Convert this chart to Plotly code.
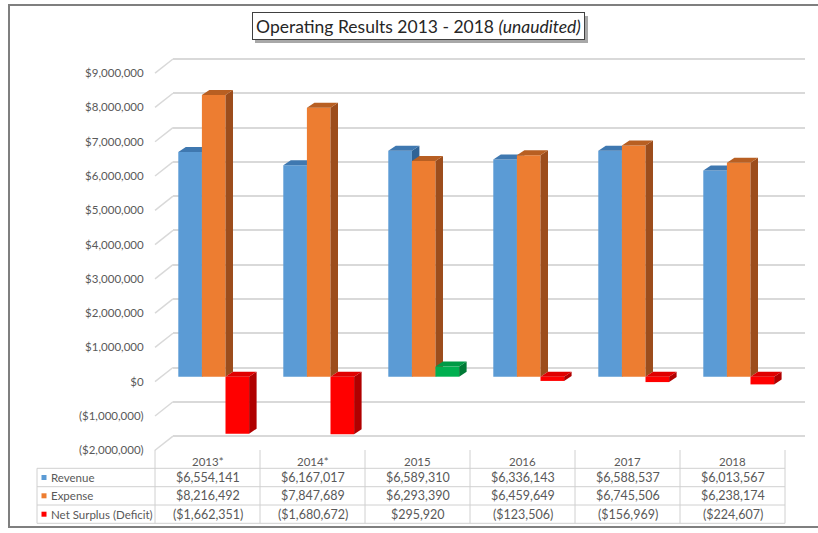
import plotly.graph_objects as go

# ---------------- data ----------------
categories = ["2013*", "2014*", "2015", "2016", "2017", "2018"]
revenue = [6554141, 6167017, 6589310, 6336143, 6588537, 6013567]
expense = [8216492, 7847689, 6293390, 6459649, 6745506, 6238174]
net_surplus = [-1662351, -1680672, 295920, -123506, -156969, -224607]
series_names = ["Revenue", "Expense", "Net Surplus (Deficit)"]
y_ticks = [-2e6, -1e6, 0, 1e6, 2e6, 3e6, 4e6, 5e6, 6e6, 7e6, 8e6, 9e6]
title_text = "Operating Results 2013 - 2018 <i>(unaudited)</i>"

# ---------------- styles / geometry ----------------
W, H = 818, 533
FONT = "Lato"
TXT = "#595959"
GRID = "#d9d9d9"
BLUE, BLUE_TOP, BLUE_SIDE = "#5B9BD5", "#3F78B0", "#2F6396"
ORANGE, ORANGE_TOP, ORANGE_SIDE = "#ED7D31", "#B85F22", "#9C4D1C"
RED, RED_TOP, RED_SIDE = "#FF0000", "#E00000", "#B00000"
GREEN, GREEN_TOP, GREEN_SIDE = "#00B050", "#009A46", "#007A36"

X_DOM_PX = (173, 805)
CAT0_PX, CAT_STEP = 207.5, 105.0
Y_TOP_PX, Y_BOT_PX = 50, 455
PXM = 34.28  # pixels per 1,000,000
ZERO_LABEL_PX, ZERO_GRID_PX, ZERO_BAR_PX = 381.7, 367.5, 376.7
WALL_X0_PX = 155
BW = 23.6 / CAT_STEP
GROUP_START = (178.3 - CAT0_PX) / CAT_STEP
DX = 7.5 / CAT_STEP
DY = 5.0 / PXM * 1e6

def px(x):
    return x / W

def py(y):
    return 1 - y / H

def yrange(zero_px):
    return [(zero_px - Y_BOT_PX) / PXM * 1e6, (zero_px - Y_TOP_PX) / PXM * 1e6]

def money(v):
    s = "${:,.0f}".format(abs(v))
    return "(" + s + ")" if v < 0 else s

x_range = [(X_DOM_PX[0] - CAT0_PX) / CAT_STEP, (X_DOM_PX[1] - CAT0_PX) / CAT_STEP]
idx = list(range(len(categories)))

fig = go.Figure()

# empty traces to create label / grid subplots
fig.add_trace(go.Scatter(x=[], y=[], yaxis="y", showlegend=False, hoverinfo="skip"))
fig.add_trace(go.Scatter(x=[], y=[], yaxis="y2", showlegend=False, hoverinfo="skip"))

def poly_trace(polys, color, yaxis):
    xs, ys = [], []
    for p in polys:
        for (a, b) in p:
            xs.append(a)
            ys.append(b)
        xs.append(p[0][0]); ys.append(p[0][1])
        xs.append(None); ys.append(None)
    return go.Scatter(x=xs, y=ys, mode="lines", fill="toself", fillcolor=color,
                      line=dict(width=0, color=color), yaxis=yaxis,
                      showlegend=False, hoverinfo="skip")

series_def = [
    (revenue, "y3", lambda v: (BLUE, BLUE_TOP, BLUE_SIDE)),
    (expense, "y4", lambda v: (ORANGE, ORANGE_TOP, ORANGE_SIDE)),
    (net_surplus, "y5", lambda v: (GREEN, GREEN_TOP, GREEN_SIDE) if v >= 0 else (RED, RED_TOP, RED_SIDE)),
]

for k, (vals, yax, cfn) in enumerate(series_def):
    off = GROUP_START + k * BW
    fronts = [cfn(v)[0] for v in vals]
    fig.add_trace(go.Bar(x=idx, y=vals, width=BW, offset=off, marker=dict(color=fronts, line=dict(width=0)),
                         yaxis=yax, name=series_names[k], showlegend=False, hoverinfo="skip"))
    faces = {}
    for i, v in zip(idx, vals):
        _, ctop, cside = cfn(v)
        xl = i + off
        xr = xl + BW
        h = max(v, 0)
        side = [(xr, 0), (xr + DX, DY), (xr + DX, v + DY), (xr, v)]
        top = [(xl, h), (xl + DX, h + DY), (xr + DX, h + DY), (xr, h)]
        faces.setdefault(cside, []).append(side)
        faces.setdefault(ctop, []).append(top)
    for col, polys in faces.items():
        fig.add_trace(poly_trace(polys, col, yax))

ydom = [py(Y_BOT_PX), py(Y_TOP_PX)]
hidden = dict(showgrid=False, zeroline=False, showline=False, showticklabels=False, ticks="")

fig.update_layout(
    width=W, height=H, autosize=False,
    margin=dict(l=0, r=0, t=0, b=0),
    paper_bgcolor="white", plot_bgcolor="rgba(0,0,0,0)",
    barmode="overlay",
    xaxis=dict(domain=[px(X_DOM_PX[0]), px(X_DOM_PX[1])], range=x_range, anchor="y", **hidden),
    yaxis=dict(domain=ydom, range=yrange(ZERO_LABEL_PX), anchor="free", position=px(WALL_X0_PX),
               tickvals=y_ticks, ticktext=[money(t) for t in y_ticks],
               showgrid=False, zeroline=False, showline=False,
               ticks="outside", ticklen=9, tickcolor="rgba(0,0,0,0)",
               tickfont=dict(family=FONT, size=11.5, color=TXT)),
    yaxis2=dict(overlaying="y", anchor="x", range=yrange(ZERO_GRID_PX), tickvals=y_ticks,
                showgrid=True, gridcolor=GRID, gridwidth=1.5, zeroline=False,
                showline=False, showticklabels=False, ticks=""),
    yaxis3=dict(overlaying="y", anchor="x", range=yrange(ZERO_BAR_PX), **hidden),
    yaxis4=dict(overlaying="y", anchor="x", range=yrange(ZERO_BAR_PX), **hidden),
    yaxis5=dict(overlaying="y", anchor="x", range=yrange(ZERO_BAR_PX), **hidden),
)

shapes = []
# side wall slanted grid lines
for t in y_ticks:
    shapes.append(dict(type="line", xref="paper", yref="y", ysizemode="pixel", yanchor=t,
                       x0=px(WALL_X0_PX), x1=px(X_DOM_PX[0]), y0=0, y1=ZERO_LABEL_PX - ZERO_GRID_PX,
                       line=dict(color=GRID, width=1.5), layer="below"))

# data table grid
TABLE_L_PX = 37
HDR_TOP_PX = 450
ROW_LINES_PX = [468.3, 486.7, 505.0, 523.3]
TBL = "#d0d0d0"
for yl in ROW_LINES_PX:
    shapes.append(dict(type="line", xref="paper", yref="paper", x0=px(TABLE_L_PX), x1=px(CAT0_PX + 5.5 * CAT_STEP),
                       y0=py(yl), y1=py(yl), line=dict(color=TBL, width=1)))
for b in range(len(categories) + 1):
    xb = CAT0_PX + (b - 0.5) * CAT_STEP
    shapes.append(dict(type="line", xref="paper", yref="paper", x0=px(xb), x1=px(xb),
                       y0=py(HDR_TOP_PX), y1=py(ROW_LINES_PX[-1]), line=dict(color=TBL, width=1)))
shapes.append(dict(type="line", xref="paper", yref="paper", x0=px(TABLE_L_PX), x1=px(TABLE_L_PX),
                   y0=py(ROW_LINES_PX[0]), y1=py(ROW_LINES_PX[-1]), line=dict(color=TBL, width=1)))

# title shadow
shapes.append(dict(type="rect", xref="paper", yref="paper", x0=px(255), x1=px(588), y0=py(43), y1=py(16),
                   fillcolor="#a8a8a8", line=dict(width=0)))
# outer chart border
shapes.append(dict(type="rect", xref="paper", yref="paper", x0=px(9), x1=px(830), y0=py(527), y1=py(5),
                   line=dict(color="#7f7f7f", width=2), fillcolor="rgba(0,0,0,0)"))

annotations = []
annotations.append(dict(text=title_text, xref="paper", yref="paper", x=px(418.5), y=py(26.5),
                        xanchor="center", yanchor="middle", showarrow=False,
                        font=dict(family=FONT, size=17.5, color="#262626"),
                        bgcolor="white", bordercolor="#404040", borderwidth=1, borderpad=3,
                        width=325, height=20))

HDR_Y = 461.0
ROW_Y = [477.5, 495.8, 514.2]
TFONT = dict(family=FONT, size=11.5, color=TXT)
VFONT = dict(family=FONT, size=12.5, color=TXT)
for i, c in zip(idx, categories):
    annotations.append(dict(text=c, xref="x", yref="paper", x=i, y=py(HDR_Y), showarrow=False,
                            xanchor="center", yanchor="middle", font=TFONT))
row_vals = [revenue, expense, net_surplus]
key_colors = [BLUE, ORANGE, RED]
for r, (vals, name, kc) in enumerate(zip(row_vals, series_names, key_colors)):
    for i, v in zip(idx, vals):
        annotations.append(dict(text=money(v), xref="x", yref="paper", x=i, y=py(ROW_Y[r]), showarrow=False,
                                xanchor="center", yanchor="middle", font=VFONT))
    annotations.append(dict(text=name, xref="paper", yref="paper", x=px(49), y=py(ROW_Y[r]), showarrow=False,
                            xanchor="left", yanchor="middle", font=TFONT))
    shapes.append(dict(type="rect", xref="paper", yref="paper", x0=px(41.5), x1=px(46.5),
                       y0=py(ROW_Y[r] + 2.5), y1=py(ROW_Y[r] - 2.5), fillcolor=kc, line=dict(width=0)))

fig.update_layout(shapes=shapes, annotations=annotations)
fig.write_html("out.html", config={"displayModeBar": False},
               post_script="document.body.style.margin='0px';")
